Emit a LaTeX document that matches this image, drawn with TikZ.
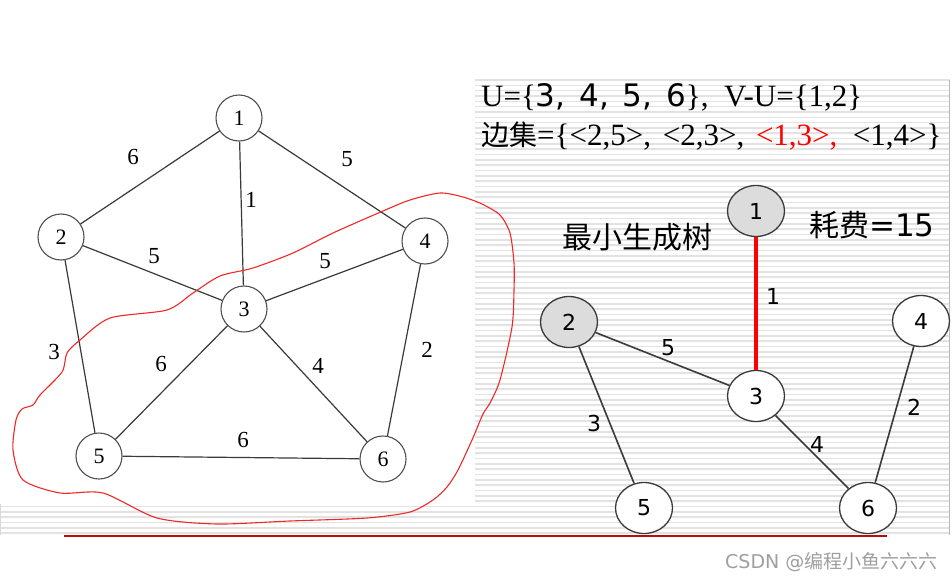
\documentclass[tikz,border=0pt]{standalone}
\usepackage{fontspec}
\setmainfont{Liberation Serif}
\newfontfamily\vfont{DejaVu Sans}
\newfontfamily\cjk{Noto Sans CJK SC}
\usetikzlibrary{shapes.geometric}
\definecolor{stripe}{HTML}{E2E2E2}
\definecolor{edgec}{HTML}{3A3A3A}
\definecolor{ringc}{HTML}{505050}
\definecolor{fillg}{HTML}{DCDCDC}
\definecolor{loopred}{HTML}{F02828}
\definecolor{darkred}{HTML}{B80A0A}
\tikzset{
  lnode/.style={circle, draw=ringc, line width=1.1pt, fill=white, minimum size=46pt, inner sep=0pt, font=\fontsize{22}{22}\selectfont},
  llabel/.style={font=\fontsize{23}{23}\selectfont, inner sep=0pt},
  ledge/.style={draw=edgec, line width=1.2pt},
  rnode/.style={ellipse, draw=edgec, line width=1.3pt, fill=white, minimum width=57pt, minimum height=51pt, inner sep=0pt, font=\vfont\fontsize{22}{22}\selectfont},
  rnodeg/.style={rnode, fill=fillg},
  rlabel/.style={font=\vfont\fontsize{22}{22}\selectfont, inner sep=0pt},
  redge/.style={draw=edgec, line width=1.6pt},
}
\begin{document}
\begin{tikzpicture}[x=1pt,y=-1pt]
\useasboundingbox (0,0) rectangle (952,580);
\fill[white] (0,0) rectangle (952,580);
% striped background
\foreach \i in {0,...,85} {
  \draw[stripe, line width=1.6pt] (475,{80+\i*5.33}) -- (950,{80+\i*5.33});
}
\foreach \i in {80,...,85} {
  \draw[stripe, line width=1.6pt] (0,{80+\i*5.33}) -- (475,{80+\i*5.33});
}
\draw[gray!55, line width=1.5pt] (949.5,80) -- (949.5,535);
\draw[gray!30, line width=1.2pt] (0.6,504) -- (0.6,535);
\draw[darkred, line width=2pt] (64,535.5) -- (887,535.5);

% left graph
\node[lnode] (a1) at (239,118) {1};
\node[lnode] (a2) at (61,237) {2};
\node[lnode] (a3) at (244,309) {3};
\node[lnode] (a4) at (425,241) {4};
\node[lnode] (a5) at (99,456) {5};
\node[lnode] (a6) at (383,459) {6};
\draw[ledge] (a1) -- (a2);
\draw[ledge] (a1) -- (a3);
\draw[ledge] (a1) -- (a4);
\draw[ledge] (a2) -- (a3);
\draw[ledge] (a2) -- (a5);
\draw[ledge] (a3) -- (a4);
\draw[ledge] (a3) -- (a5);
\draw[ledge] (a3) -- (a6);
\draw[ledge] (a4) -- (a6);
\draw[ledge] (a5) -- (a6);
\node[llabel] (w12) at (133,157) {6};
\node[llabel] (w14) at (347,159) {5};
\node[llabel] (w13) at (251,200) {1};
\node[llabel] (w23) at (154,256) {5};
\node[llabel] (w34) at (325,261) {5};
\node[llabel] (w25) at (54,352) {3};
\node[llabel] (w35) at (161,364) {6};
\node[llabel] (w36) at (318,366) {4};
\node[llabel] (w46) at (427,350) {2};
\node[llabel] (w56) at (243,440) {6};

% red freehand loop
\draw[loopred, line width=1.1pt] plot[smooth cycle, tension=0.45] coordinates {
 (110,318) (167,310) (193,293) (220,276) (253,268) (293,253) (333,233) (383,211)
 (410,200) (440,193) (463,197) (482,204) (500,215) (510,233) (514,263) (514,290)
 (512,327) (500,380) (490,403) (483,414) (472,440) (458,470) (447,487) (433,500)
 (410,512) (367,518) (290,521) (217,524) (157,518) (103,493) (60,493) (23,480)
 (13,450) (16,420) (22,409) (33,405) (40,395) (62,372) (67,353) (80,340)
};

% text block
\node[anchor=base west, inner sep=0pt] (t1) at (481,107)
  {\fontsize{31}{31}\selectfont U=\{{\vfont 3,\hspace{4pt} 4,\hspace{4pt} 5,\hspace{4pt} 6}\},\ \ V-U=\{1,2\}};
\node[anchor=base west, inner sep=0pt] (t2) at (481,146)
  {\fontsize{31}{31}\selectfont{\cjk\fontsize{28}{28}\selectfont 边集}=\{<2,5>,\hspace{4pt} <2,3>,\hspace{4pt} \textcolor{red}{<1,3>,}\ \ <1,4>\}};
\node[inner sep=0pt] (t3) at (637,237) {\cjk\fontsize{30}{30}\selectfont 最小生成树};
\node[anchor=west, inner sep=0pt] (t4) at (809,225) {{\cjk\fontsize{30}{30}\selectfont 耗费}{\vfont\fontsize{31}{31}\selectfont =15}};

% right graph (minimum spanning tree)
\node[rnodeg] (b1) at (756,211) {1};
\node[rnodeg] (b2) at (569,322) {2};
\node[rnode] (b3) at (756,396) {3};
\node[rnode] (b4) at (921,321) {4};
\node[rnode] (b5) at (644,508) {5};
\node[rnode] (b6) at (868,508) {6};
\draw[red, line width=4.5pt] (b1) -- (b3);
\draw[redge] (b2) -- (b3);
\draw[redge] (b2) -- (b5);
\draw[redge] (b3) -- (b6);
\draw[redge] (b4) -- (b6);
\node[rlabel] (v13) at (773,296) {1};
\node[rlabel] (v23) at (668,348) {5};
\node[rlabel] (v25) at (594,423) {3};
\node[rlabel] (v36) at (817,444) {4};
\node[rlabel] (v46) at (914,407) {2};

% watermark
\node[anchor=west, inner sep=0pt, text=gray!75] (wm) at (725,562)
  {\fontsize{19}{19}\selectfont{\vfont CSDN @}{\cjk 编程小鱼六六六}};
\end{tikzpicture}
\end{document}
